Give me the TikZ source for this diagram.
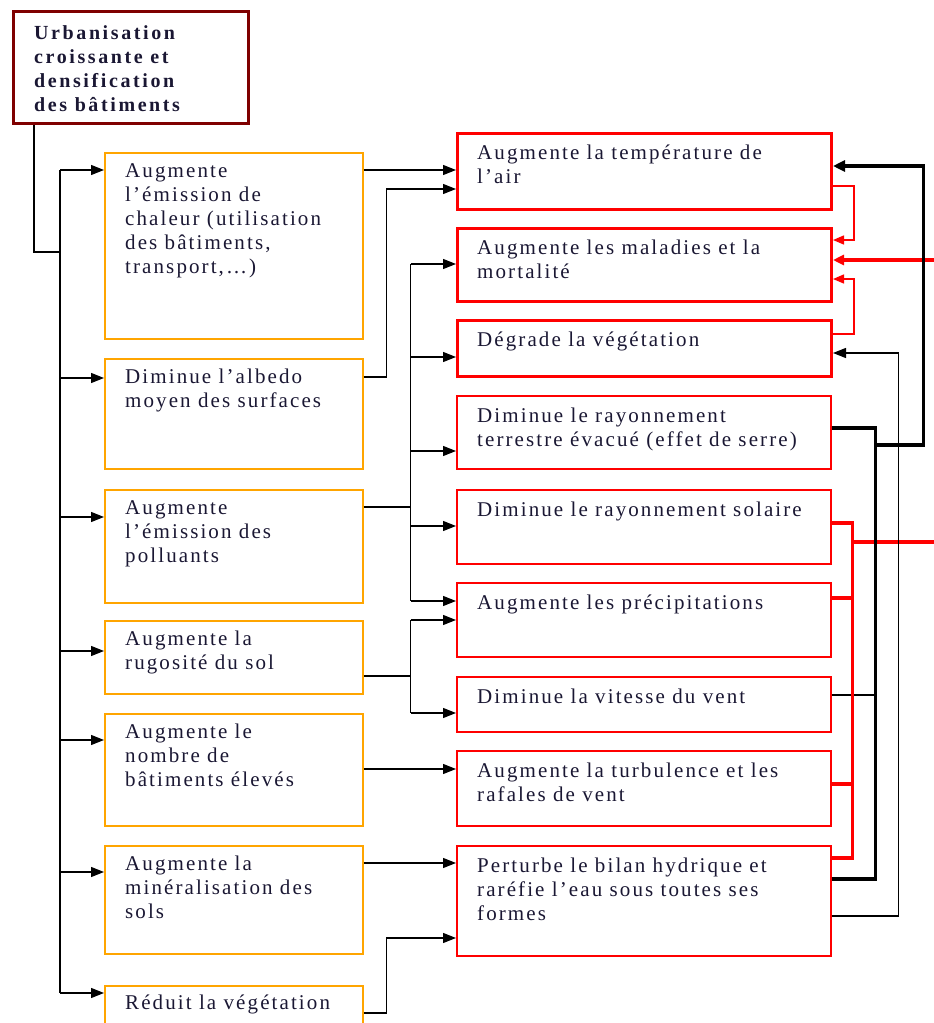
\documentclass[tikz,border=0pt]{standalone}
\usepackage{fontspec}
\setmainfont{Liberation Serif}
\newfontfamily\bodyfont{Liberation Serif}[LetterSpace=10]
\newfontfamily\headfont{Liberation Serif}[LetterSpace=13]
\usetikzlibrary{arrows.meta}
\definecolor{boxorange}{HTML}{FFA500}
\definecolor{boxred}{HTML}{FF0000}
\definecolor{maroon}{HTML}{7F0000}
\definecolor{ink}{HTML}{1A1733}
\tikzset{
  obox/.style={draw=boxorange, line width=1.5pt, anchor=north west, inner sep=0pt, minimum width=258pt},
  rbox/.style={draw=boxred, line width=1.5pt, anchor=north west, inner sep=0pt, minimum width=374pt},
  rboxthick/.style={rbox, line width=3pt},
  headbox/.style={draw=maroon, line width=3pt, anchor=north west, inner sep=0pt, minimum width=235pt, minimum height=112pt},
  txt/.style={anchor=north west, inner sep=0pt, align=left, text=ink, font=\bodyfont\fontsize{21pt}{24pt}\selectfont},
  headtxt/.style={anchor=north west, inner sep=0pt, align=left, text=ink, font=\headfont\bfseries\fontsize{20pt}{24pt}\selectfont},
  conn/.style={draw=black, line width=1.2pt},
  arr/.style={conn, -{Triangle[length=13pt,width=10pt]}},
  heavy/.style={draw=black, line width=3.5pt},
  heavyarr/.style={heavy, -{Triangle[length=12pt,width=11pt]}},
  medium/.style={draw=black, line width=2pt},
  redthin/.style={draw=boxred, line width=1.5pt},
  redthinarr/.style={redthin, -{Triangle[length=11pt,width=9pt]}},
  redheavy/.style={draw=boxred, line width=3.5pt},
  redheavyarr/.style={redheavy, -{Triangle[length=11pt,width=10pt]}},
}
\begin{document}
\begin{tikzpicture}[x=1pt, y=-1pt]
\useasboundingbox (0,0) rectangle (934,1023);

% --- source box ---
\node[headbox] (t) at (12,10) {};
\node[headtxt] (tt) at ([shift={(22pt,-12.2pt)}]t.north west) {\strut Urbanisation\\croissante et\\densification\\des bâtiments};

% --- causes (orange) ---
\node[obox, minimum height=186pt] (b1) at (104,152) {};
\node[obox, minimum height=110pt] (b2) at (104,358) {};
\node[obox, minimum height=113pt] (b3) at (104,489) {};
\node[obox, minimum height=73pt]  (b4) at (104,620) {};
\node[obox, minimum height=112pt] (b5) at (104,713) {};
\node[obox, minimum height=108pt] (b6) at (104,845) {};
\node[obox, minimum height=70pt]  (b7) at (104,985) {};

\node[txt] (b1t) at ([shift={(21pt,-8.2pt)}]b1.north west) {\strut Augmente\\l’émission de\\chaleur (utilisation\\des bâtiments,\\transport,…)};
\node[txt] (b2t) at ([shift={(21pt,-8.2pt)}]b2.north west) {\strut Diminue l’albedo\\moyen des surfaces};
\node[txt] (b3t) at ([shift={(21pt,-8.2pt)}]b3.north west) {\strut Augmente\\l’émission des\\polluants};
\node[txt] (b4t) at ([shift={(21pt,-8.2pt)}]b4.north west) {\strut Augmente la\\rugosité du sol};
\node[txt] (b5t) at ([shift={(21pt,-8.2pt)}]b5.north west) {\strut Augmente le\\nombre de\\bâtiments élevés};
\node[txt] (b6t) at ([shift={(21pt,-8.2pt)}]b6.north west) {\strut Augmente la\\minéralisation des\\sols};
\node[txt] (b7t) at ([shift={(21pt,-7.2pt)}]b7.north west) {\strut Réduit la végétation};

% --- effects (red) ---
\node[rboxthick, minimum height=76pt] (r1) at (456,132) {};
\node[rboxthick, minimum height=73pt] (r2) at (456,227) {};
\node[rboxthick, minimum height=56pt] (r3) at (456,319) {};
\node[rbox, minimum height=73pt]  (r4) at (456,395) {};
\node[rbox, minimum height=74pt]  (r5) at (456,489) {};
\node[rbox, minimum height=74pt]  (r6) at (456,582) {};
\node[rbox, minimum height=55pt]  (r7) at (456,676) {};
\node[rbox, minimum height=75pt]  (r8) at (456,750) {};
\node[rbox, minimum height=110pt] (r9) at (456,845) {};

\node[txt] (r1t) at ([shift={(21pt,-10.2pt)}]r1.north west) {\strut Augmente la température de\\l’air};
\node[txt] (r2t) at ([shift={(21pt,-10.2pt)}]r2.north west) {\strut Augmente les maladies et la\\mortalité};
\node[txt] (r3t) at ([shift={(21pt,-10.2pt)}]r3.north west) {\strut Dégrade la végétation};
\node[txt] (r4t) at ([shift={(21pt,-10.2pt)}]r4.north west) {\strut Diminue le rayonnement\\terrestre évacué (effet de serre)};
\node[txt] (r5t) at ([shift={(21pt,-10.2pt)}]r5.north west) {\strut Diminue le rayonnement solaire};
\node[txt] (r6t) at ([shift={(21pt,-10.2pt)}]r6.north west) {\strut Augmente les précipitations};
\node[txt] (r7t) at ([shift={(21pt,-10.2pt)}]r7.north west) {\strut Diminue la vitesse du vent};
\node[txt] (r8t) at ([shift={(21pt,-10.2pt)}]r8.north west) {\strut Augmente la turbulence et les\\rafales de vent};
\node[txt] (r9t) at ([shift={(21pt,-10.2pt)}]r9.north west) {\strut Perturbe le bilan hydrique et\\raréfie l’eau sous toutes ses\\formes};

% --- trunk from the source box to every cause ---
\coordinate (trunkT) at (60,170);
\coordinate (trunkB) at (60,993);
\coordinate (ta) at (60,252);
\draw[conn] ([xshift=22pt]t.south west) |- (ta);
\draw[conn] (trunkT) -- (trunkB);
\coordinate (in1) at ([yshift=-18pt]b1.north west);
\coordinate (in2) at ([yshift=-20pt]b2.north west);
\coordinate (in3) at ([yshift=-28pt]b3.north west);
\coordinate (in4) at ([yshift=-31pt]b4.north west);
\coordinate (in5) at ([yshift=-27pt]b5.north west);
\coordinate (in6) at ([yshift=-27pt]b6.north west);
\coordinate (in7) at ([yshift=-8pt]b7.north west);
\foreach \p in {in1,in2,in3,in4,in5,in6,in7}
  \draw[arr] (trunkT |- \p) -- (\p);

% --- causes to effects ---
\coordinate (o1) at ([yshift=-18pt]b1.north east);
\draw[arr] (o1) -- (o1 -| r1.west);

\coordinate (o2) at ([yshift=-19pt]b2.north east);
\coordinate (i2) at ([yshift=-57pt]r1.north west);
\draw[arr] (o2) -- ++(23,0) |- (i2);

\coordinate (o3) at ([yshift=-18pt]b3.north east);
\draw[conn] (o3) -- ++(47,0) coordinate (bus3);
\coordinate (q2) at ([yshift=-37pt]r2.north west);
\coordinate (q3) at ([yshift=-38pt]r3.north west);
\coordinate (q4) at ([yshift=-56pt]r4.north west);
\coordinate (q5) at ([yshift=-37pt]r5.north west);
\coordinate (q6) at ([yshift=-19pt]r6.north west);
\draw[conn] (bus3 |- q2) -- (bus3 |- q6);
\foreach \p in {q2,q3,q4,q5,q6}
  \draw[arr] (bus3 |- \p) -- (\p);

\coordinate (o4) at ([yshift=-56pt]b4.north east);
\coordinate (s6) at ([yshift=-38pt]r6.north west);
\coordinate (s7) at ([yshift=-37pt]r7.north west);
\draw[conn] (o4) -- (o4 -| bus3);
\draw[conn] (bus3 |- s6) -- (bus3 |- s7);
\draw[arr] (bus3 |- s6) -- (s6);
\draw[arr] (bus3 |- s7) -- (s7);

\coordinate (o5) at ([yshift=-56pt]b5.north east);
\draw[arr] (o5) -- (o5 -| r8.west);

\coordinate (o6) at ([yshift=-18pt]b6.north east);
\draw[arr] (o6) -- (o6 -| r9.west);

\coordinate (o7) at ([yshift=-28pt]b7.north east);
\coordinate (i7) at ([yshift=-93pt]r9.north west);
\draw[arr] (o7) -- ++(23,0) |- (i7);

% --- feedbacks on the right ---
\coordinate (e4) at ([yshift=-33pt]r4.north east);
\coordinate (e7) at ([yshift=-19pt]r7.north east);
\coordinate (e9) at ([yshift=-34pt]r9.north east);
\coordinate (f1) at ([yshift=-34pt]r1.north east);
\coordinate (vb) at ([xshift=44pt]e4);

% wind speed joins the heavy black line (drawn under the red bus)
\draw[medium] (e7) -- (e7 -| vb);

% thin red: temperature and vegetation to health
\coordinate (u1) at ([yshift=-54pt]r1.north east);
\coordinate (u2) at ([yshift=-13pt]r2.north east);
\coordinate (u3) at ([yshift=-15pt]r3.north east);
\coordinate (u4) at ([yshift=-52pt]r2.north east);
\draw[redthinarr] (u1) -- ++(21,0) |- (u2);
\draw[redthinarr] (u3) -- ++(21,0) |- (u4);

% heavy red: solar, rain, turbulence and water to health
\coordinate (w2) at ([yshift=-33pt]r2.north east);
\coordinate (wext) at (950,260);
\draw[redheavyarr] (wext) -- (w2);
\coordinate (e5) at ([yshift=-34pt]r5.north east);
\coordinate (e6) at ([yshift=-16pt]r6.north east);
\coordinate (e8) at ([yshift=-34pt]r8.north east);
\coordinate (e9r) at ([yshift=-13pt]r9.north east);
\draw[redheavy] (e5) -- ++(21,0) coordinate (rb) -- (rb |- e9r) -- (e9r);
\draw[redheavy] (e6) -- (e6 -| rb);
\draw[redheavy] (e8) -- (e8 -| rb);
\coordinate (rj) at ([yshift=-19pt]rb);
\coordinate (rext) at (950,542);
\draw[redheavy] (rj) -- (rext);

% heavy black: radiation, wind and water back to air temperature
\draw[heavy] (e4) -- (vb) -- (vb |- e9) -- (e9);
\coordinate (jn) at ([yshift=-17pt]vb);
\draw[heavyarr] (jn) -- ++(48,0) |- (f1);

% thin black: water balance to vegetation
\coordinate (g9) at ([yshift=-71pt]r9.north east);
\coordinate (h3) at ([yshift=-34pt]r3.north east);
\draw[arr] (g9) -- ++(67,0) |- (h3);
\end{tikzpicture}
\end{document}
